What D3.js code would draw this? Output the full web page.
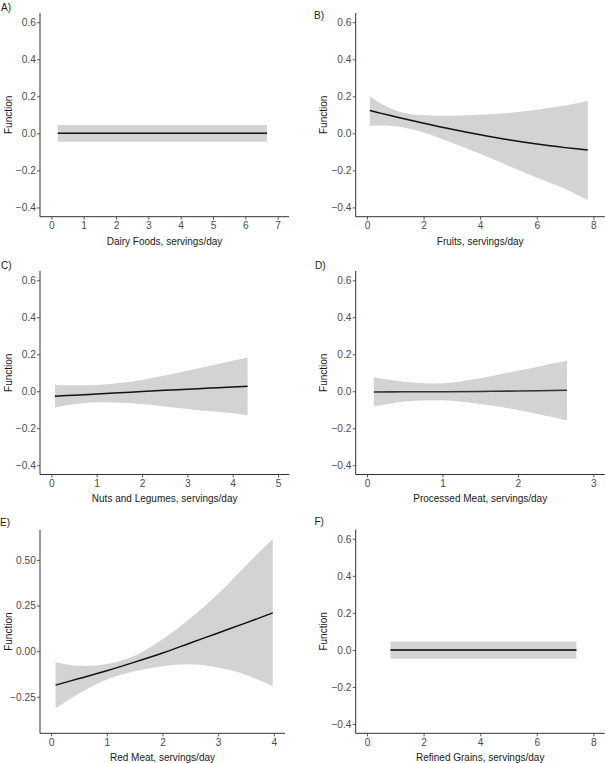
<!DOCTYPE html>
<html>
<head>
<meta charset="utf-8">
<script src="https://cdn.jsdelivr.net/npm/d3@7"></script>
<style>
  html, body { margin: 0; padding: 0; background: #fff; }
  svg { display: block; }
  text { font-family: "Liberation Sans", Arial, sans-serif; }
</style>
</head>
<body>
<svg id="chart" width="606" height="763"></svg>
<script>
// ---------------- DATA ----------------
const panelLabels = ["A)", "B)", "C)", "D)", "E)", "F)"];
const xTitles = [
  "Dairy Foods, servings/day",
  "Fruits, servings/day",
  "Nuts and Legumes, servings/day",
  "Processed Meat, servings/day",
  "Red Meat, servings/day",
  "Refined Grains, servings/day"
];
const yTitle = "Function";

// x tick labels per panel
const xTicksA = [0, 1, 2, 3, 4, 5, 6, 7];
const xTicksB = [0, 2, 4, 6, 8];
const xTicksC = [0, 1, 2, 3, 4, 5];
const xTicksD = [0, 1, 2, 3];
const xTicksE = [0, 1, 2, 3, 4];
const xTicksF = [0, 2, 4, 6, 8];
// y tick labels
const yTicksStd = [-0.4, -0.2, 0.0, 0.2, 0.4, 0.6];
const yTicksE = [-0.25, 0.00, 0.25, 0.50];

// A) Dairy foods
const dairyX   = [0.2, 6.67];
const dairyFit = [0, 0];
const dairyLo  = [-0.045, -0.045];
const dairyHi  = [0.045, 0.045];

// B) Fruits
const fruitsX   = [0.1, 0.5, 1, 1.5, 2, 3, 4, 5, 6, 7, 7.8];
const fruitsFit = [0.123, 0.108, 0.09, 0.072, 0.055, 0.022, -0.008, -0.035, -0.058, -0.077, -0.09];
const fruitsLo  = [0.04, 0.042, 0.038, 0.025, 0.005, -0.05, -0.11, -0.175, -0.24, -0.30, -0.36];
const fruitsHi  = [0.20, 0.16, 0.125, 0.105, 0.098, 0.095, 0.10, 0.11, 0.128, 0.15, 0.175];

// C) Nuts and legumes
const nutsX   = [0.08, 0.5, 1, 1.5, 2, 2.5, 3, 3.5, 4, 4.33];
const nutsFit = [-0.027, -0.021, -0.015, -0.008, -0.002, 0.005, 0.011, 0.017, 0.023, 0.027];
const nutsLo  = [-0.087, -0.07, -0.06, -0.062, -0.069, -0.082, -0.096, -0.108, -0.119, -0.13];
const nutsHi  = [0.034, 0.032, 0.034, 0.045, 0.061, 0.085, 0.111, 0.138, 0.165, 0.182];

// D) Processed meat
const procX   = [0.09, 0.5, 1, 1.5, 2, 2.65];
const procFit = [-0.004, -0.003, -0.003, -0.001, 0.001, 0.005];
const procLo  = [-0.083, -0.056, -0.049, -0.069, -0.101, -0.157];
const procHi  = [0.076, 0.052, 0.043, 0.07, 0.111, 0.165];

// E) Red meat
const redX   = [0.08, 0.5, 1, 1.5, 2, 2.5, 3, 3.5, 3.98];
const redFit = [-0.186, -0.15, -0.107, -0.06, -0.01, 0.045, 0.10, 0.155, 0.21];
const redLo  = [-0.314, -0.232, -0.155, -0.11, -0.082, -0.072, -0.09, -0.13, -0.19];
const redHi  = [-0.06, -0.08, -0.07, -0.025, 0.065, 0.18, 0.315, 0.47, 0.615];

// F) Refined grains
const grainsX   = [0.83, 7.4];
const grainsFit = [0, 0];
const grainsLo  = [-0.047, -0.047];
const grainsHi  = [0.045, 0.045];

// ---------------- LAYOUT ----------------
const panels = [
  { x: dairyX, fit: dairyFit, lo: dairyLo, hi: dairyHi, xt: xTicksA, yt: yTicksStd, xd: [-0.35, 7.35], yd: [-0.45, 0.65], l: 40, r: 289, t: 13, b: 216.7, lx: 1, ly: 11, fmt: 1, fitW: 1.5, fitC: "#111" },
  { x: fruitsX, fit: fruitsFit, lo: fruitsLo, hi: fruitsHi, xt: xTicksB, yt: yTicksStd, xd: [-0.4, 8.4], yd: [-0.45, 0.65], l: 355.7, r: 604.7, t: 13, b: 216.7, lx: 314, ly: 18.5, fmt: 1, fitW: 1.5, fitC: "#111" },
  { x: nutsX, fit: nutsFit, lo: nutsLo, hi: nutsHi, xt: xTicksC, yt: yTicksStd, xd: [-0.25, 5.25], yd: [-0.45, 0.65], l: 40, r: 289.3, t: 271, b: 474.5, lx: 1, ly: 269, fmt: 1, fitW: 1.5, fitC: "#111" },
  { x: procX, fit: procFit, lo: procLo, hi: procHi, xt: xTicksD, yt: yTicksStd, xd: [-0.15, 3.15], yd: [-0.45, 0.65], l: 355.7, r: 604.7, t: 271, b: 474.5, lx: 315, ly: 269, fmt: 1, fitW: 1.6, fitC: "#333" },
  { x: redX, fit: redFit, lo: redLo, hi: redHi, xt: xTicksE, yt: yTicksE, xd: [-0.2, 4.2], yd: [-0.45, 0.664], l: 40, r: 285, t: 530, b: 733.3, lx: 0, ly: 525.5, fmt: 2, fitW: 1.5, fitC: "#111" },
  { x: grainsX, fit: grainsFit, lo: grainsLo, hi: grainsHi, xt: xTicksF, yt: yTicksStd, xd: [-0.4, 8.4], yd: [-0.45, 0.65], l: 355.7, r: 604.7, t: 529.5, b: 733.3, lx: 314.5, ly: 525, fmt: 1, fitW: 1.9, fitC: "#333" }
];

const svg = d3.select("#chart");
const fontSize = 10.2;
const minus = s => s.replace("-", "\u2212");

panels.forEach((p, i) => {
  const xs = d3.scaleLinear().domain(p.xd).range([p.l, p.r]);
  const ys = d3.scaleLinear().domain(p.yd).range([p.b, p.t]);
  const g = svg.append("g");
  const pts = p.x.map((v, k) => ({ x: v, f: p.fit[k], lo: p.lo[k], hi: p.hi[k] }));
  const curve = pts.length > 2 ? d3.curveCatmullRom.alpha(0.5) : d3.curveLinear;

  g.append("path")
    .datum(pts)
    .attr("fill", "#d3d3d3")
    .attr("d", d3.area().x(d => xs(d.x)).y0(d => ys(d.lo)).y1(d => ys(d.hi)).curve(curve));

  g.append("path")
    .datum(pts)
    .attr("fill", "none")
    .attr("stroke", p.fitC)
    .attr("stroke-width", p.fitW)
    .attr("d", d3.line().x(d => xs(d.x)).y(d => ys(d.f)).curve(curve));

  // axes
  const xAxis = d3.axisBottom(xs).tickValues(p.xt).tickSize(3).tickPadding(2)
    .tickFormat(d => minus(d3.format("d")(d)));
  const yAxis = d3.axisLeft(ys).tickValues(p.yt).tickSize(3).tickPadding(1.2)
    .tickFormat(d => minus(d3.format("." + p.fmt + "f")(d)));

  const gx = g.append("g").attr("transform", `translate(0,${p.b})`).call(xAxis);
  const gy = g.append("g").attr("transform", `translate(${p.l},0)`).call(yAxis);
  [gx, gy].forEach(a => {
    a.select(".domain").attr("stroke", "#333").attr("stroke-width", 1);
    a.selectAll(".tick line").attr("stroke", "#333").attr("stroke-width", 0.8);
    a.selectAll(".tick text").attr("fill", "#4d4d4d").style("font-size", fontSize + "px")
      .style("font-family", "'Liberation Sans', Arial, sans-serif");
  });
  gx.select(".domain").attr("d", `M${p.l},0H${p.r}`);
  gy.select(".domain").attr("d", `M0,${p.t}V${p.b}`);

  // axis titles
  g.append("text")
    .attr("x", (p.l + p.r) / 2)
    .attr("y", p.b + 27.8)
    .attr("text-anchor", "middle")
    .attr("fill", "#1a1a1a")
    .style("font-size", "10px")
    .text(xTitles[i]);

  const yx = p.l < 100 ? 11.5 : 327;
  g.append("text")
    .attr("transform", `translate(${yx},${(p.t + p.b) / 2}) rotate(-90)`)
    .attr("text-anchor", "middle")
    .attr("fill", "#1a1a1a")
    .style("font-size", "10px")
    .text(yTitle);

  g.append("text")
    .attr("x", p.lx)
    .attr("y", p.ly)
    .attr("fill", "#1a1a1a")
    .style("font-size", "10px")
    .text(panelLabels[i]);
});
</script>
</body>
</html>
